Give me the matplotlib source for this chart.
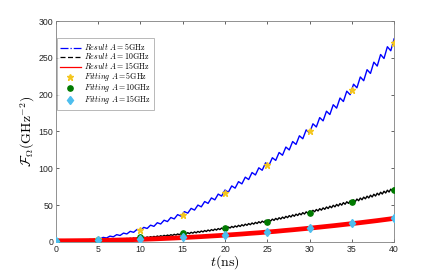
import numpy as np
import matplotlib
matplotlib.use("Agg")
import matplotlib.pyplot as plt
from matplotlib.lines import Line2D

plt.rcParams['mathtext.fontset'] = 'cm'
plt.rcParams['font.family'] = ['Liberation Sans', 'DejaVu Sans']

# ---- data ----
# Result A=5GHz, sampled every 0.4 ns (peaks / troughs of the oscillation)
t_blue = np.linspace(0, 40, 101)
res_5 = [0.0, 0.0, 0.2, 0.1, 0.7, 0.4, 1.3, 0.9, 2.2, 1.7,
         3.3, 2.7, 4.6, 3.9, 6.1, 5.3, 7.8, 6.9, 9.8, 8.7,
         11.9, 10.8, 14.3, 13.0, 16.9, 15.5, 19.7, 18.2, 22.7, 21.1,
         26.0, 24.3, 29.4, 27.6, 33.1, 31.2, 37.0, 35.0, 41.1, 39.0,
         45.5, 43.2, 50.0, 47.6, 54.8, 52.3, 59.7, 57.1, 64.9, 62.2,
         70.4, 67.5, 76.0, 73.0, 81.8, 78.8, 87.9, 84.7, 94.2, 90.9,
         100.6, 97.3, 107.4, 103.9, 114.3, 110.7, 121.4, 117.7, 128.8, 124.9,
         136.3, 132.4, 144.1, 140.1, 152.1, 148.0, 160.4, 156.1, 168.8, 164.4,
         177.5, 173.0, 186.3, 181.7, 195.4, 190.7, 204.7, 199.9, 214.2, 209.3,
         224.0, 218.9, 233.9, 228.8, 244.1, 238.8, 254.5, 249.1, 265.1, 259.6,
         275.9]

# Result A=10GHz, sampled every 0.2 ns
t_black = np.linspace(0, 40, 201)
res_10 = [1.2, 0.8, 1.2, 0.8, 1.3, 0.8, 1.3, 0.8, 1.4, 0.9,
          1.4, 0.9, 1.5, 1.0, 1.6, 1.1, 1.8, 1.2, 1.9, 1.3,
          2.0, 1.4, 2.2, 1.6, 2.4, 1.7, 2.6, 1.9, 2.8, 2.1,
          3.0, 2.3, 3.2, 2.5, 3.5, 2.7, 3.7, 3.0, 4.0, 3.2,
          4.3, 3.5, 4.6, 3.8, 4.9, 4.0, 5.2, 4.4, 5.6, 4.7,
          6.0, 5.0, 6.3, 5.4, 6.7, 5.7, 7.1, 6.1, 7.5, 6.5,
          8.0, 6.9, 8.4, 7.3, 8.9, 7.8, 9.3, 8.2, 9.8, 8.7,
          10.3, 9.2, 10.8, 9.7, 11.4, 10.2, 11.9, 10.7, 12.5, 11.2,
          13.0, 11.8, 13.6, 12.3, 14.2, 12.9, 14.8, 13.5, 15.4, 14.1,
          16.1, 14.7, 16.7, 15.4, 17.4, 16.0, 18.1, 16.7, 18.8, 17.4,
          19.5, 18.0, 20.2, 18.8, 21.0, 19.5, 21.7, 20.2, 22.5, 20.9,
          23.3, 21.7, 24.1, 22.5, 24.9, 23.3, 25.7, 24.1, 26.5, 24.9,
          27.4, 25.7, 28.2, 26.6, 29.1, 27.4, 30.0, 28.3, 30.9, 29.2,
          31.9, 30.1, 32.8, 31.0, 33.7, 31.9, 34.7, 32.9, 35.7, 33.8,
          36.7, 34.8, 37.7, 35.8, 38.7, 36.8, 39.7, 37.8, 40.8, 38.8,
          41.9, 39.9, 42.9, 40.9, 44.0, 42.0, 45.1, 43.1, 46.2, 44.2,
          47.4, 45.3, 48.5, 46.4, 49.7, 47.6, 50.9, 48.7, 52.1, 49.9,
          53.3, 51.1, 54.5, 52.3, 55.7, 53.5, 57.0, 54.7, 58.2, 55.9,
          59.5, 57.2, 60.8, 58.5, 62.1, 59.7, 63.4, 61.0, 64.7, 62.3,
          66.1, 63.7, 67.4, 65.0, 68.8, 66.4, 70.2, 67.7, 71.6, 69.1,
          73.0]

# Result A=15GHz (centre of the dense band), every 1 ns
t_red = np.arange(0, 41)
res_15 = [1.5, 1.5, 1.6, 1.7, 1.8, 2.0, 2.2, 2.4, 2.7, 3.0,
          3.4, 3.8, 4.2, 4.7, 5.2, 5.8, 6.4, 7.0, 7.7, 8.4,
          9.1, 9.9, 10.7, 11.6, 12.4, 13.4, 14.3, 15.4, 16.4, 17.5,
          18.6, 19.8, 21.0, 22.2, 23.5, 24.8, 26.1, 27.5, 28.9, 30.4,
          31.9]

# Fitting points
t_fit = [0, 5, 10, 15, 20, 25, 30, 35, 40]
fit_5 = [0.5, 4.5, 16.0, 37.0, 66.0, 104.0, 151.0, 206.0, 270.0]
fit_10 = [1.0, 2.2, 6.0, 11.5, 18.5, 27.5, 39.5, 54.0, 70.5]
fit_15 = [1.5, 2.0, 3.5, 6.0, 9.5, 13.5, 18.5, 25.0, 32.0]

labels = [r'$\it{Result}\ A=5\mathrm{GHz}$',
          r'$\it{Result}\ A=10\mathrm{GHz}$',
          r'$\it{Result}\ A=15\mathrm{GHz}$',
          r'$\it{Fitting}\ A=5\mathrm{GHz}$',
          r'$\it{Fitting}\ A=10\mathrm{GHz}$',
          r'$\it{Fitting}\ A=15\mathrm{GHz}$']

c_blue, c_black, c_red = '#0000FF', '#000000', '#FF0000'
c_yel, c_grn, c_cyan = '#F4C61F', '#007A00', '#4DBEEE'

fig = plt.figure(figsize=(4.36, 2.73), dpi=100)
ax = fig.add_axes([0.128, 0.114, 0.776, 0.809])

ax.plot(t_blue, res_5, color=c_blue, lw=1.0, zorder=2)
ax.plot(t_black, res_10, color=c_black, lw=1.0, zorder=3)
ax.plot(t_red, res_15, color=c_red, lw=3.4, zorder=4, solid_capstyle='butt')

ax.plot(t_fit, fit_5, ls='none', marker='*', ms=4.6, color=c_yel, mec=c_yel, zorder=5)
ax.plot(t_fit, fit_10, ls='none', marker='o', ms=3.8, color=c_grn, mec=c_grn, zorder=6)
ax.plot(t_fit, fit_15, ls='none', marker='d', ms=4.4, color=c_cyan, mec=c_cyan, zorder=7)

handles = [Line2D([], [], color=c_blue, lw=0.9, ls='-.'),
           Line2D([], [], color=c_black, lw=0.9, ls=(0, (4, 2))),
           Line2D([], [], color=c_red, lw=0.9, ls='-'),
           Line2D([], [], ls='none', marker='*', ms=4.6, color=c_yel),
           Line2D([], [], ls='none', marker='o', ms=3.8, color=c_grn),
           Line2D([], [], ls='none', marker='d', ms=4.4, color=c_cyan)]
leg = ax.legend(handles, labels, loc='upper left', bbox_to_anchor=(0.003, 0.923),
                borderaxespad=0, fontsize=5.7, frameon=True, fancybox=False,
                edgecolor='#999999', handlelength=2.6, labelspacing=-0.12,
                handleheight=0.5, borderpad=0.4, handletextpad=0.4)
leg.get_frame().set_linewidth(0.6)

ax.set_xlim(0, 40)
ax.set_ylim(0, 300)
ax.set_xticks(range(0, 41, 5))
ax.set_yticks(range(0, 301, 50))
ax.tick_params(direction='in', top=True, right=True, length=2.5, width=0.5,
               labelsize=6.3, colors='#262626', pad=2)
for s in ax.spines.values():
    s.set_color('#808080')
    s.set_linewidth(0.6)

ax.set_xlabel(r'$t(\mathrm{ns})$', fontsize=10, labelpad=0)
ax.set_ylabel(r'$\mathcal{F}_{\Omega}(\mathrm{GHz}^{-2})$', fontsize=10, labelpad=1)

fig.savefig('out.png', dpi=100)
